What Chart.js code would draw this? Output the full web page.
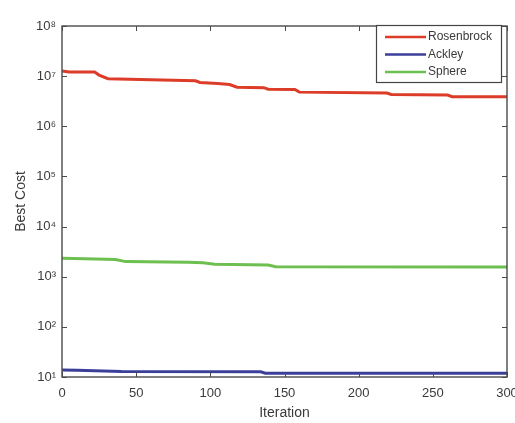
<!DOCTYPE html>
<html>
<head>
<meta charset="utf-8">
<script src="https://cdn.jsdelivr.net/npm/chart.js@4/dist/chart.umd.min.js"></script>
<style>
  html, body { margin: 0; padding: 0; background: #ffffff; }
  #wrap { width: 515px; height: 423px; }
</style>
</head>
<body>
<div id="wrap"><canvas id="c" width="515" height="423"></canvas></div>
<script>
// ---- data ----
const seriesNames = ['Rosenbrock', 'Ackley', 'Sphere'];
const seriesColors = ['#dc3c28', '#3b3f9a', '#6dbf4f'];

const rosenbrockIter = [0, 5, 22, 25, 31, 60, 90, 93, 105, 113, 118, 136, 139, 157, 160, 219, 222, 260, 263, 300];
const rosenbrockCost = [1.27e7, 1.21e7, 1.21e7, 1.05e7, 8.9e6, 8.5e6, 8.1e6, 7.5e6, 7.1e6, 6.8e6, 6.0e6, 5.9e6, 5.5e6, 5.4e6, 4.8e6, 4.6e6, 4.3e6, 4.2e6, 3.9e6, 3.9e6];

const ackleyIter = [0, 10, 40, 134, 137, 300];
const ackleyCost = [13.8, 13.6, 12.8, 12.7, 11.9, 11.9];

const sphereIter = [0, 30, 36, 43, 85, 95, 103, 139, 144, 300];
const sphereCost = [2330, 2220, 2200, 2000, 1940, 1900, 1770, 1710, 1580, 1560];

const xTickValues = [0, 50, 100, 150, 200, 250, 300];
const yTickExponents = [1, 2, 3, 4, 5, 6, 7, 8];

const xTitle = 'Iteration';
const yTitle = 'Best Cost';

const supDigits = {'0':'⁰','1':'¹','2':'²','3':'³','4':'⁴','5':'⁵','6':'⁶','7':'⁷','8':'⁸','9':'⁹','-':'⁻'};
function tenPow(exp) { return '10' + String(exp).split('').map(c => supDigits[c]).join(''); }

function toPoints(xs, ys) { return xs.map((x, i) => ({ x: x, y: ys[i] })); }

const axisColor = '#4a4a4a';
const textColor = '#3a3a3a';
const FONT = "'Liberation Sans', Arial, Helvetica, sans-serif";

// draws the MATLAB-like box, inward major ticks and the boxed legend
const matlabFrame = {
  id: 'matlabFrame',
  afterDatasetsDraw(chart) {
    const ctx = chart.ctx;
    const a = chart.chartArea;
    const xs = chart.scales.x, ys = chart.scales.y;
    ctx.save();
    ctx.strokeStyle = axisColor;
    ctx.lineWidth = 1.4;
    ctx.strokeRect(a.left, a.top, a.right - a.left, a.bottom - a.top);
    ctx.lineWidth = 1;
    ctx.beginPath();
    xs.ticks.forEach(t => {
      const px = Math.round(xs.getPixelForValue(t.value)) + 0.5;
      ctx.moveTo(px, a.bottom); ctx.lineTo(px, a.bottom - 5);
      ctx.moveTo(px, a.top); ctx.lineTo(px, a.top + 5);
    });
    ys.ticks.forEach(t => {
      const py = Math.round(ys.getPixelForValue(t.value)) + 0.5;
      ctx.moveTo(a.left, py); ctx.lineTo(a.left + 5, py);
      ctx.moveTo(a.right, py); ctx.lineTo(a.right - 5, py);
    });
    ctx.stroke();

    // legend box (top-right, inside the axes)
    const bx = 376, by = a.top - 1, bw = 125, bh = 57;
    ctx.fillStyle = '#ffffff';
    ctx.fillRect(bx, by, bw, bh);
    ctx.strokeStyle = '#444444';
    ctx.lineWidth = 1.2;
    ctx.strokeRect(bx + 0.5, by + 0.5, bw, bh);
    ctx.font = '12px ' + FONT;
    ctx.textBaseline = 'middle';
    ctx.textAlign = 'left';
    chart.data.datasets.forEach((ds, i) => {
      const yy = by + 12 + i * 17.5;
      ctx.strokeStyle = ds.borderColor;
      ctx.lineWidth = 2.5;
      ctx.beginPath();
      ctx.moveTo(bx + 9, yy); ctx.lineTo(bx + 50, yy);
      ctx.stroke();
      ctx.fillStyle = textColor;
      ctx.fillText(ds.label, bx + 52, yy);
    });
    ctx.restore();
  }
};

new Chart(document.getElementById('c'), {
  type: 'line',
  data: {
    datasets: [
      { label: seriesNames[0], data: toPoints(rosenbrockIter, rosenbrockCost), borderColor: seriesColors[0] },
      { label: seriesNames[1], data: toPoints(ackleyIter, ackleyCost), borderColor: seriesColors[1] },
      { label: seriesNames[2], data: toPoints(sphereIter, sphereCost), borderColor: seriesColors[2] }
    ].map(d => Object.assign(d, { borderWidth: 3, pointRadius: 0, tension: 0, fill: false }))
  },
  options: {
    responsive: false,
    animation: false,
    devicePixelRatio: 1,
    layout: { padding: { top: 26, right: 8, left: 0, bottom: 0 } },
    plugins: { legend: { display: false }, tooltip: { enabled: false } },
    scales: {
      x: {
        type: 'linear',
        min: 0, max: 300,
        afterBuildTicks: s => { s.ticks = xTickValues.map(v => ({ value: v })); },
        afterFit: s => { s.height = 46; s.paddingLeft = 0; s.paddingRight = 0; },
        grid: { display: false, drawTicks: false },
        border: { display: false },
        ticks: { color: textColor, font: { size: 13, family: FONT }, padding: 9, maxRotation: 0, autoSkip: false },
        title: { display: true, text: xTitle, color: textColor, font: { size: 14, family: FONT }, padding: { top: 0, bottom: 1 } }
      },
      y: {
        type: 'logarithmic',
        min: 10, max: 1e8,
        afterBuildTicks: s => { s.ticks = yTickExponents.map(e => ({ value: Math.pow(10, e) })); },
        afterFit: s => { s.width = 62; s.paddingTop = 0; s.paddingBottom = 0; },
        grid: { display: false, drawTicks: false },
        border: { display: false },
        ticks: {
          color: textColor, font: { size: 13, family: FONT }, padding: 6, autoSkip: false,
          callback: v => tenPow(Math.round(Math.log10(v)))
        },
        title: { display: true, text: yTitle, color: textColor, font: { size: 14, family: FONT }, padding: { top: 13, bottom: 0 } }
      }
    }
  },
  plugins: [matlabFrame]
});
</script>
</body>
</html>
